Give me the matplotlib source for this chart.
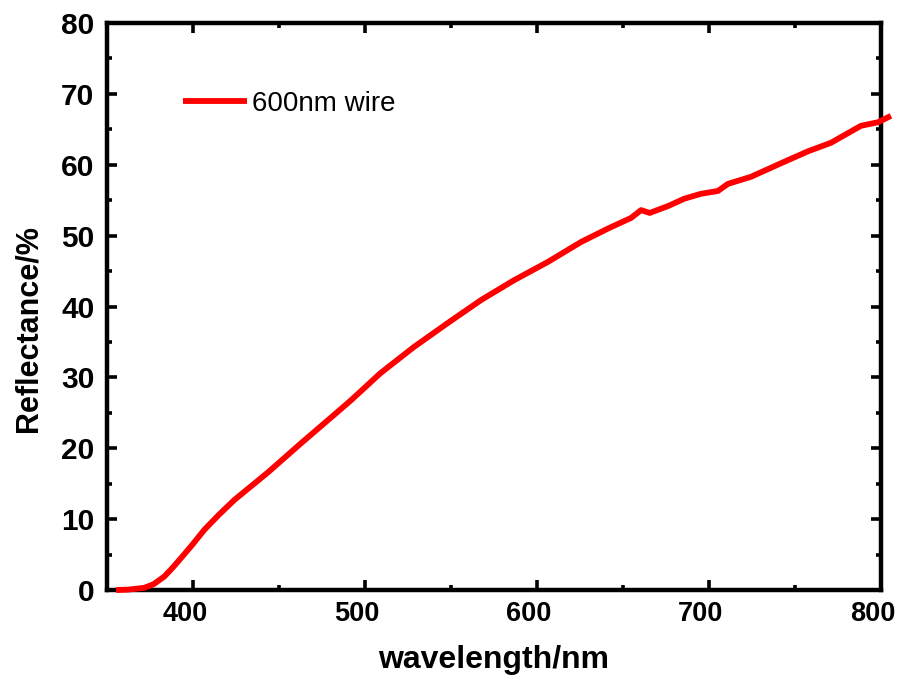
import matplotlib
matplotlib.use("Agg")
import matplotlib.pyplot as plt
import matplotlib.transforms as mtransforms
from matplotlib.ticker import MultipleLocator

plt.rcParams['font.family'] = ['Liberation Sans', 'DejaVu Sans']

# ---- data ----
wavelength = [355.2, 362, 371.5, 377, 383.3, 388, 393, 400, 406.6, 415, 424, 443.6,
              462.8, 482, 492, 509, 528.5, 548.3, 567.4, 586.6, 606.4, 625.6, 641.3,
              654.7, 660.5, 665.5, 676.5, 685.5, 695.3, 705.2, 711, 724.4, 743.6,
              757.6, 770.9, 788.4, 798.3, 805.8]
reflectance = [0.0, 0.05, 0.3, 0.8, 1.9, 3.1, 4.5, 6.5, 8.5, 10.6, 12.7, 16.6,
               20.7, 24.7, 26.8, 30.6, 34.3, 37.7, 40.9, 43.7, 46.3, 49.1, 51.0,
               52.5, 53.6, 53.2, 54.2, 55.2, 55.9, 56.3, 57.3, 58.3, 60.4,
               61.9, 63.1, 65.5, 66.0, 66.9]
series_label = "600nm wire"
x_ticks = [400, 500, 600, 700, 800]
x_ticklabels = ["400", "500", "600", "700", "800"]
y_ticks = [0, 10, 20, 30, 40, 50, 60, 70, 80]

fig = plt.figure(figsize=(8.99, 6.85), dpi=100)
ax = fig.add_axes([107/899, 95/685, 774/899, 567/685])

ax.plot(wavelength, reflectance, color='#ff0000', lw=4.2, label=series_label,
        clip_on=False, solid_capstyle='butt', solid_joinstyle='round', zorder=3)

ax.set_xlim(350, 800)
ax.set_ylim(0, 80)
ax.set_xticks(x_ticks, labels=x_ticklabels)
ax.set_yticks(y_ticks)
ax.xaxis.set_minor_locator(MultipleLocator(50))
ax.yaxis.set_minor_locator(MultipleLocator(5))

for s in ax.spines.values():
    s.set_linewidth(3.2)
    s.set_color('black')

ax.tick_params(which='both', direction='in', top=True, right=True, color='black')
ax.tick_params(which='major', length=7, width=2.6)
ax.tick_params(which='minor', length=3.5, width=2.6)
ax.tick_params(axis='x', labelsize=19.5, pad=8)
ax.tick_params(axis='y', labelsize=21.5, pad=9)
for lbl in ax.get_yticklabels() + ax.get_xticklabels():
    lbl.set_fontweight('bold')
# the reference's x tick labels sit slightly left of their ticks
shift = mtransforms.ScaledTranslation(-8/100, 0, fig.dpi_scale_trans)
for lbl in ax.get_xticklabels():
    lbl.set_transform(lbl.get_transform() + shift)

ax.set_xlabel("wavelength/nm", fontsize=23, fontweight='bold')
ax.set_ylabel("Reflectance/%", fontsize=22, fontweight='bold')
ax.xaxis.set_label_coords(0.5, (590-660)/567)
ax.xaxis.label.set_va('center')
ax.yaxis.set_label_coords((29-107)/774, (590-329)/567)
ax.yaxis.label.set_va('center')

leg = ax.legend(loc='center left', bbox_to_anchor=(0.098, 0.857), frameon=False,
                fontsize=20, handlelength=2.3, handletextpad=0.2, borderpad=0, borderaxespad=0)

fig.savefig("out.png", dpi=100)
